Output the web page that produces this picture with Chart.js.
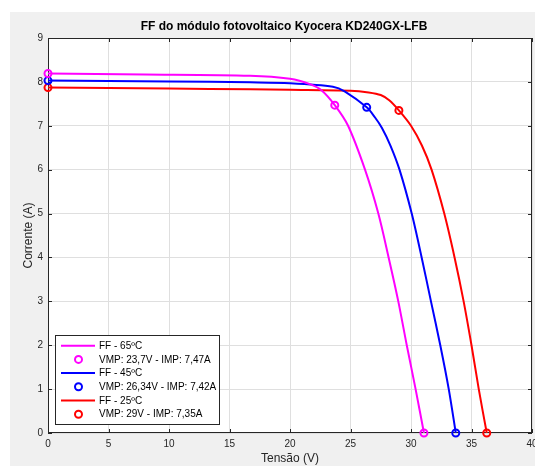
<!DOCTYPE html>
<html>
<head>
<meta charset="utf-8">
<script src="https://cdn.jsdelivr.net/npm/chart.js@4.4.1/dist/chart.umd.min.js"></script>
<style>
  html, body { margin: 0; padding: 0; background: #fff; overflow: hidden; }
</style>
</head>
<body>
<canvas id="grafico" width="535" height="466"></canvas>
<script>
// curvas I-V (tensão em V, corrente em A)
const tensao65   = [0, 8, 16.7, 20, 21.65, 22.6, 23.7, 24.8, 26.2, 27.3, 28.15, 28.95, 29.65, 30.38, 31.07];
const corrente65 = [8.19, 8.17, 8.14, 8.07, 7.95, 7.81, 7.47, 7.0, 6.0, 5.0, 4.0, 3.0, 2.0, 1.0, 0];

const tensao45   = [0, 10, 16.7, 20, 23.55, 24.55, 26.34, 27.0, 27.6, 28.3, 29.05, 30.06, 30.88, 31.65, 32.42, 33.12, 33.7];
const corrente45 = [8.03, 8.01, 7.99, 7.97, 7.89, 7.78, 7.42, 7.2, 6.95, 6.55, 6.0, 5.0, 4.0, 3.0, 2.0, 1.0, 0];

const tensao25   = [0, 10, 16.7, 20, 25, 26.5, 27.5, 28.2, 29, 30.0, 30.9, 31.7, 32.75, 33.6, 34.35, 35.0, 35.6, 36.26];
const corrente25 = [7.87, 7.85, 7.83, 7.82, 7.80, 7.76, 7.70, 7.58, 7.35, 7.0, 6.55, 6.0, 5.0, 4.0, 3.0, 2.0, 1.0, 0];

// pontos marcados: Isc, ponto de máxima potência, Voc
const marcas65V = [0, 23.7, 31.07];
const marcas65I = [8.19, 7.47, 0];
const marcas45V = [0, 26.34, 33.7];
const marcas45I = [8.03, 7.42, 0];
const marcas25V = [0, 29, 36.26];
const marcas25I = [7.87, 7.35, 0];

const rotulos = ['FF - 65ºC', 'VMP: 23,7V - IMP: 7,47A',
                 'FF - 45ºC', 'VMP: 26,34V - IMP: 7,42A',
                 'FF - 25ºC', 'VMP: 29V - IMP: 7,35A'];
const cores = ['#ff00ff', '#0000ff', '#ff0000'];

const xTicks = [0, 5, 10, 15, 20, 25, 30, 35, 40];
const yTicks = [0, 1, 2, 3, 4, 5, 6, 7, 8, 9];

const pares = (vs, is) => vs.map((v, k) => ({ x: v, y: is[k] }));

function linha(label, vs, is, cor) {
    return {
        label, data: pares(vs, is), tipo: 'linha',
        showLine: true,
        borderColor: cor, borderWidth: 2,
        pointRadius: 0, pointHoverRadius: 0,
        tension: 0.3,
        fill: false
    };
}
function marcas(label, vs, is, cor) {
    return {
        label, data: pares(vs, is), tipo: 'marca',
        showLine: false,
        borderColor: cor, backgroundColor: 'rgba(0,0,0,0)',
        pointBorderColor: cor, pointBackgroundColor: 'rgba(0,0,0,0)',
        pointRadius: 3.5, pointBorderWidth: 2,
        clip: false
    };
}

const eixo = '#262626';

const moldura = {
    id: 'moldura',
    beforeDraw(chart) {
        const { ctx, chartArea: a } = chart;
        ctx.save();
        ctx.fillStyle = '#f0f0f0';
        ctx.fillRect(10, 12, chart.width - 10, chart.height - 12);
        ctx.fillStyle = '#ffffff';
        ctx.fillRect(a.left, a.top, a.right - a.left, a.bottom - a.top);
        ctx.restore();
    },
    beforeDatasetsDraw(chart) {
        const { ctx, chartArea: a, scales } = chart;
        ctx.save();
        ctx.strokeStyle = eixo;
        ctx.lineWidth = 1;
        ctx.strokeRect(a.left + 0.5, a.top + 0.5, a.right - a.left - 1, a.bottom - a.top - 1);
        ctx.beginPath();
        const t = 4;
        xTicks.forEach(v => {
            const px = Math.round(scales.x.getPixelForValue(v)) + 0.5;
            ctx.moveTo(px, a.bottom); ctx.lineTo(px, a.bottom - t);
            ctx.moveTo(px, a.top); ctx.lineTo(px, a.top + t);
        });
        yTicks.forEach(v => {
            const py = Math.round(scales.y.getPixelForValue(v)) + 0.5;
            ctx.moveTo(a.left, py); ctx.lineTo(a.left + t, py);
            ctx.moveTo(a.right, py); ctx.lineTo(a.right - t, py);
        });
        ctx.stroke();
        ctx.restore();
    },
    afterDraw(chart) {
        const { ctx } = chart;
        ctx.save();
        // título
        ctx.fillStyle = '#000';
        ctx.font = 'bold 12px "Liberation Sans", Arial, sans-serif';
        ctx.textAlign = 'center';
        ctx.textBaseline = 'middle';
        ctx.fillText('FF do módulo fotovoltaico Kyocera KD240GX-LFB', 284, 27);

        // legenda
        const bx = 55, by = 335, bw = 164, bh = 89;
        ctx.fillStyle = '#fff';
        ctx.fillRect(bx, by, bw, bh);
        ctx.strokeStyle = eixo;
        ctx.lineWidth = 1;
        ctx.strokeRect(bx + 0.5, by + 0.5, bw, bh);
        ctx.font = '10px "Liberation Sans", Arial, sans-serif';
        ctx.textAlign = 'left';
        chart.data.datasets.forEach((ds, k) => {
            const y = 345.7 + k * 13.7;
            const cor = ds.borderColor;
            ctx.strokeStyle = cor;
            ctx.lineWidth = 2;
            ctx.beginPath();
            if (ds.tipo === 'marca') {
                ctx.arc(78.5, y, 3.5, 0, Math.PI * 2);
            } else {
                ctx.moveTo(61, y); ctx.lineTo(95, y);
            }
            ctx.stroke();
            ctx.fillStyle = '#000';
            ctx.fillText(ds.label, 99, y + 0.5);
        });
        ctx.restore();
    }
};

const fonteTicks = { family: '"Liberation Sans", Arial, sans-serif', size: 10 };
const fonteTitulo = { family: '"Liberation Sans", Arial, sans-serif', size: 12 };

new Chart(document.getElementById('grafico').getContext('2d'), {
    type: 'scatter',
    data: {
        datasets: [
            linha(rotulos[0], tensao65, corrente65, cores[0]),
            marcas(rotulos[1], marcas65V, marcas65I, cores[0]),
            linha(rotulos[2], tensao45, corrente45, cores[1]),
            marcas(rotulos[3], marcas45V, marcas45I, cores[1]),
            linha(rotulos[4], tensao25, corrente25, cores[2]),
            marcas(rotulos[5], marcas25V, marcas25I, cores[2])
        ]
    },
    options: {
        responsive: false,
        animation: false,
        layout: { autoPadding: false, padding: { top: 38, right: 3, left: 0, bottom: 0 } },
        plugins: { legend: { display: false }, tooltip: { enabled: false } },
        scales: {
            x: {
                type: 'linear', min: 0, max: 40,
                afterBuildTicks: s => { s.ticks = xTicks.map(v => ({ value: v })); },
                afterFit: s => { s.height = 33; s.paddingLeft = 0; s.paddingRight = 0; },
                grid: { color: '#dfdfdf', drawTicks: false },
                border: { display: false },
                ticks: { color: eixo, font: fonteTicks, padding: 5, maxRotation: 0 },
                title: { display: true, text: 'Tensão (V)', color: eixo, font: fonteTitulo, padding: { top: 0, bottom: 0 } }
            },
            y: {
                type: 'linear', min: 0, max: 9,
                afterBuildTicks: s => { s.ticks = yTicks.map(v => ({ value: v })); },
                afterFit: s => { s.width = 48; s.paddingTop = 0; s.paddingBottom = 0; },
                grid: { color: '#dfdfdf', drawTicks: false },
                border: { display: false },
                ticks: { color: eixo, font: fonteTicks, padding: 5 },
                title: { display: true, text: 'Corrente (A)', color: eixo, font: fonteTitulo, padding: { top: 21, bottom: 0 } }
            }
        }
    },
    plugins: [moldura]
});
</script>
</body>
</html>
